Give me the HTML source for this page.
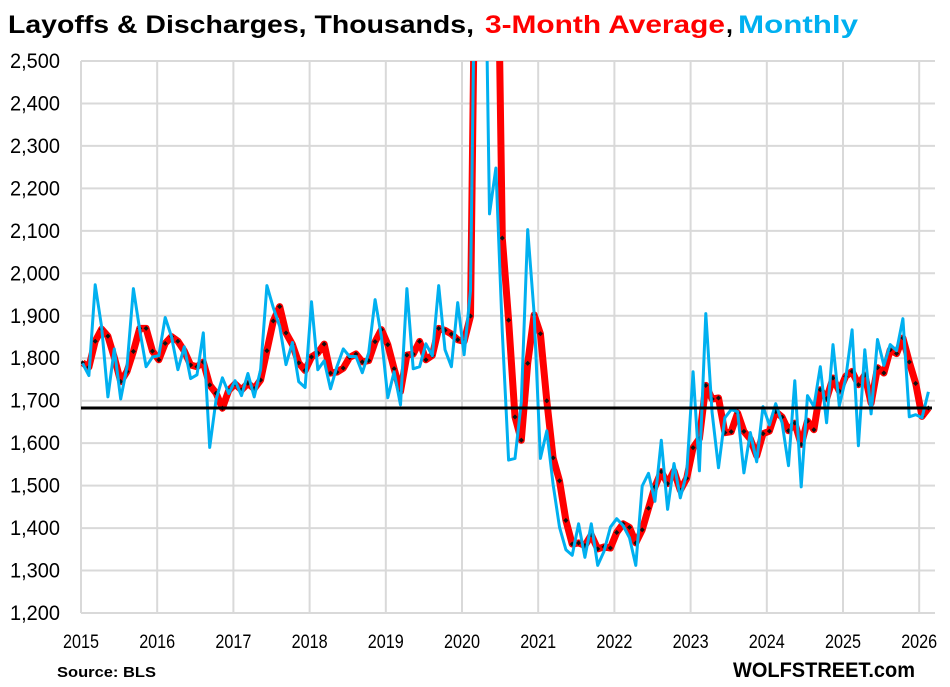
<!DOCTYPE html>
<html><head><meta charset="utf-8"><style>
html,body{margin:0;padding:0;background:#fff;}
svg{display:block;}
text{font-family:"Liberation Sans",Arial,sans-serif;}
</style></head><body>
<svg id="c" width="950" height="687" xmlns="http://www.w3.org/2000/svg">
<defs><clipPath id="pc"><rect x="81" y="61" width="860" height="553"/></clipPath></defs>
<g id="grid"></g>
<g id="lab"></g>
<g clip-path="url(#pc)" id="ser"></g>
<text x="8" y="33" font-size="25" font-weight="bold" fill="#000" textLength="466" lengthAdjust="spacingAndGlyphs">Layoffs &amp; Discharges, Thousands,</text>
<text x="485" y="33" font-size="25" font-weight="bold" fill="#ff0000" textLength="240" lengthAdjust="spacingAndGlyphs">3-Month Average</text>
<text x="726" y="33" font-size="25" font-weight="bold" fill="#000">,</text>
<text x="738" y="33" font-size="25" font-weight="bold" fill="#00b0f0" textLength="120" lengthAdjust="spacingAndGlyphs">Monthly</text>
<text x="57" y="677" font-size="15" font-weight="bold" fill="#000" textLength="99" lengthAdjust="spacingAndGlyphs">Source: BLS</text>
<text x="733" y="677" font-size="21" font-weight="bold" fill="#000" textLength="182" lengthAdjust="spacingAndGlyphs">WOLFSTREET.com</text>
</svg>
<script>
var NS="http://www.w3.org/2000/svg";
function el(p,t,a,txt){var e=document.createElementNS(NS,t);for(var k in a)e.setAttribute(k,a[k]);if(txt!=null)e.textContent=txt;p.appendChild(e);return e;}
var grid=document.getElementById('grid'),lab=document.getElementById('lab'),ser=document.getElementById('ser');
function Y(v){return 613-(v-1200)*552/1300;}
function X(i){return 82.5+i*6.36;}
for(var v=1200;v<=2500;v+=100){var y=Y(v);
 el(grid,'line',{x1:81,x2:935,y1:y,y2:y,stroke:'#d9d9d9','stroke-width':2});
 var s=(v/1000|0)+','+String(v%1000).padStart(3,'0');
 el(lab,'text',{x:60,y:y+7,'font-size':21,'text-anchor':'end',textLength:50,lengthAdjust:'spacingAndGlyphs'},s);}
for(var yr=2015;yr<=2026;yr++){var x=81+(yr-2015)*76.2;
 el(grid,'line',{x1:x,x2:x,y1:61,y2:613,stroke:'#d9d9d9','stroke-width':2});
 el(lab,'text',{x:x-18,y:648,'font-size':19,textLength:36,lengthAdjust:'spacingAndGlyphs'},String(yr));}
var b=[1788,1759,1973,1874,1709,1822,1704,1780,1964,1867,1780,1803,
1806,1896,1851,1773,1827,1752,1761,1860,1590,1703,1754,1717,
1747,1712,1764,1709,1773,1971,1919,1875,1785,1837,1745,1731,
1933,1773,1794,1728,1780,1822,1804,1804,1766,1813,1938,1851,
1707,1768,1690,1964,1775,1780,1834,1806,1971,1820,1780,1931,
1808,1959,11500,7700,2140,2248,1861,1560,1564,1697,2103,1906,
1564,1629,1503,1402,1349,1336,1410,1331,1410,1312,1345,1402,
1422,1406,1377,1312,1499,1529,1463,1607,1444,1552,1471,1529,
1768,1535,1905,1672,1542,1660,1679,1674,1530,1625,1556,1686,
1643,1693,1648,1547,1747,1497,1712,1686,1780,1648,1832,1688,
1752,1867,1594,1820,1669,1844,1783,1832,1818,1893,1662,1667,
1660,1721];
var ext=[1790,1790].concat(b),r=[];
for(var i=0;i<b.length;i++)r.push((ext[i]+ext[i+1]+ext[i+2])/3);
function pts(a){return a.map(function(v,i){var y=Y(v);if(y<-200)y=-200;return X(i).toFixed(1)+','+y.toFixed(1);}).join(' ');}
el(ser,'polyline',{points:pts(r),fill:'none',stroke:'#ff0000','stroke-width':7,'stroke-linejoin':'round'});
r.forEach(function(v,i){var y=Y(v);if(y>55&&y<620)el(ser,'rect',{x:X(i)-1.8,y:y-1.8,width:3.6,height:3.6,fill:'#111',transform:'rotate(45 '+X(i)+' '+y+')'});});
el(ser,'polyline',{points:pts(b),fill:'none',stroke:'#00b0f0','stroke-width':3,'stroke-linejoin':'round'});
el(ser,'line',{x1:81,x2:932,y1:408,y2:408,stroke:'#000','stroke-width':3});
</script>
</body></html>
